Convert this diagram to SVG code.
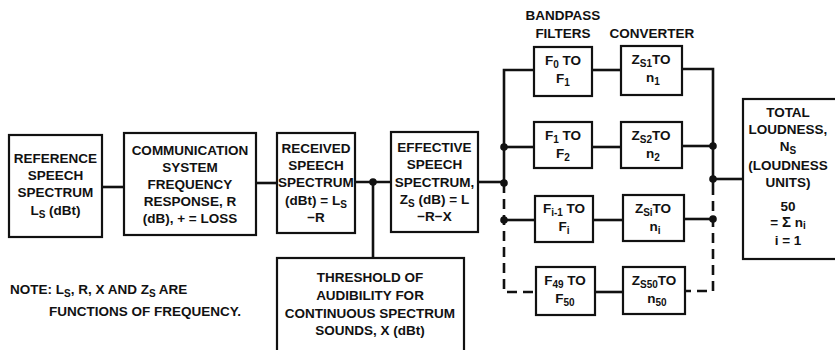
<svg xmlns="http://www.w3.org/2000/svg" width="835" height="350" viewBox="0 0 835 350">
<style>
.box{fill:#fff;stroke:#111;stroke-width:2.2}
.ln{fill:none;stroke:#111;stroke-width:2.6}
.dash{fill:none;stroke:#111;stroke-width:2.6;stroke-dasharray:10 6}
.dot{fill:#111}
text{font-family:"Liberation Sans",Arial,sans-serif;font-weight:bold;font-size:13.5px;fill:#111;text-anchor:middle}
.l{text-anchor:start}
.sub{font-size:10px}
</style>
<rect width="835" height="350" fill="#fff"/>
<g id="connectors">
<path class="ln" d="M102 187H124"/>
<path class="ln" d="M256 183H277"/>
<path class="ln" d="M355 182H391"/>
<path class="ln" d="M373 182V258"/>
<path class="ln" d="M478 182H504"/>
<path class="ln" d="M534 70H504V183"/>
<path class="dash" d="M504 183V292H536"/>
<path class="ln" d="M504 147H534"/>
<path class="ln" d="M504 220H535"/>
<path class="ln" d="M592 70H621"/>
<path class="ln" d="M592 147H621"/>
<path class="ln" d="M593 220H623"/>
<path class="ln" d="M595 292H623"/>
<path class="ln" d="M682 69H713V185"/>
<path class="dash" d="M713 185V291H685"/>
<path class="ln" d="M682 146H713"/>
<path class="ln" d="M684 219H713"/>
<path class="ln" d="M713 179H743"/>
<circle class="dot" cx="373" cy="182" r="3.8"/>
<circle class="dot" cx="504" cy="183" r="3.8"/>
<circle class="dot" cx="504" cy="147" r="3.8"/>
<circle class="dot" cx="504" cy="220" r="3.8"/>
<circle class="dot" cx="713" cy="146" r="3.8"/>
<circle class="dot" cx="713" cy="179" r="3.8"/>
<circle class="dot" cx="713" cy="219" r="3.8"/>
</g>
<g id="reference">
<rect class="box" x="9" y="135" width="93" height="102"/>
<text x="55.5" y="163">REFERENCE</text>
<text x="55.5" y="180">SPEECH</text>
<text x="55.5" y="197">SPECTRUM</text>
<text x="55.5" y="215">L<tspan class="sub" dy="3">S</tspan><tspan dy="-3"> (dBt)</tspan></text>
</g>
<g id="communication">
<rect class="box" x="124" y="133" width="132" height="102"/>
<text x="190" y="155">COMMUNICATION</text>
<text x="190" y="172">SYSTEM</text>
<text x="190" y="189">FREQUENCY</text>
<text x="190" y="206">RESPONSE, R</text>
<text x="190" y="223">(dB), + = LOSS</text>
</g>
<g id="received">
<rect class="box" x="277" y="133" width="78" height="100"/>
<text x="316" y="153">RECEIVED</text>
<text x="316" y="170">SPEECH</text>
<text x="316" y="187">SPECTRUM</text>
<text x="316" y="205">(dBt) = L<tspan class="sub" dy="3">S</tspan></text>
<text x="316" y="222">−R</text>
</g>
<g id="effective">
<rect class="box" x="391" y="132" width="87" height="100"/>
<text x="434.5" y="152">EFFECTIVE</text>
<text x="434.5" y="169">SPEECH</text>
<text x="434.5" y="187">SPECTRUM,</text>
<text x="434.5" y="204">Z<tspan class="sub" dy="3">S</tspan><tspan dy="-3"> (dB) = L</tspan></text>
<text x="434.5" y="221">−R−X</text>
</g>
<g id="threshold">
<rect class="box" x="277" y="258" width="187" height="100"/>
<text x="370" y="282">THRESHOLD OF</text>
<text x="370" y="300">AUDIBILITY FOR</text>
<text x="370" y="318">CONTINUOUS SPECTRUM</text>
<text x="370" y="335">SOUNDS, X (dBt)</text>
</g>
<g id="note">
<text class="l" x="10" y="294">NOTE: L<tspan class="sub" dy="3">S</tspan><tspan dy="-3">, R, X AND Z</tspan><tspan class="sub" dy="3">S</tspan><tspan dy="-3"> ARE</tspan></text>
<text class="l" x="49" y="316">FUNCTIONS OF FREQUENCY.</text>
</g>
<g id="headers">
<text x="563" y="20">BANDPASS</text>
<text x="563" y="38">FILTERS</text>
<text x="652" y="38">CONVERTER</text>
</g>
<g id="filter1">
<rect class="box" x="534" y="47" width="58" height="49"/>
<text x="563" y="65">F<tspan class="sub" dy="3">0</tspan><tspan dy="-3"> TO</tspan></text>
<text x="563" y="83">F<tspan class="sub" dy="3">1</tspan></text>
</g>
<g id="filter2">
<rect class="box" x="534" y="122" width="58" height="46"/>
<text x="563" y="140">F<tspan class="sub" dy="3">1</tspan><tspan dy="-3"> TO</tspan></text>
<text x="563" y="158">F<tspan class="sub" dy="3">2</tspan></text>
</g>
<g id="filteri">
<rect class="box" x="535" y="196" width="58" height="46"/>
<text x="564" y="213">F<tspan class="sub" dy="3">i-1</tspan><tspan dy="-3"> TO</tspan></text>
<text x="564" y="231">F<tspan class="sub" dy="3">i</tspan></text>
</g>
<g id="filter50">
<rect class="box" x="536" y="267" width="59" height="48"/>
<text x="565" y="285">F<tspan class="sub" dy="3">49</tspan><tspan dy="-3"> TO</tspan></text>
<text x="565" y="303">F<tspan class="sub" dy="3">50</tspan></text>
</g>
<g id="conv1">
<rect class="box" x="621" y="46" width="61" height="49"/>
<text x="651" y="64">Z<tspan class="sub" dy="3">S1</tspan><tspan dy="-3">TO</tspan></text>
<text x="653" y="82">n<tspan class="sub" dy="3">1</tspan></text>
</g>
<g id="conv2">
<rect class="box" x="621" y="122" width="61" height="46"/>
<text x="651" y="140">Z<tspan class="sub" dy="3">S2</tspan><tspan dy="-3">TO</tspan></text>
<text x="653" y="158">n<tspan class="sub" dy="3">2</tspan></text>
</g>
<g id="convi">
<rect class="box" x="623" y="195" width="61" height="46"/>
<text x="653" y="213">Z<tspan class="sub" dy="3">Si</tspan><tspan dy="-3">TO</tspan></text>
<text x="655" y="231">n<tspan class="sub" dy="3">i</tspan></text>
</g>
<g id="conv50">
<rect class="box" x="623" y="267" width="62" height="47"/>
<text x="654" y="285">Z<tspan class="sub" dy="3">S50</tspan><tspan dy="-3">TO</tspan></text>
<text x="657" y="303">n<tspan class="sub" dy="3">50</tspan></text>
</g>
<g id="total">
<rect class="box" x="743" y="99" width="100" height="160"/>
<text x="788" y="117">TOTAL</text>
<text x="788" y="134">LOUDNESS,</text>
<text x="788" y="151">N<tspan class="sub" dy="3">S</tspan></text>
<text x="788" y="170">(LOUDNESS</text>
<text x="788" y="187">UNITS)</text>
<text x="788" y="211">50</text>
<text x="788" y="227">= <tspan font-size="15">Σ</tspan> n<tspan class="sub" dy="2">i</tspan></text>
<text x="788" y="245">i = 1</text>
</g>
</svg>
